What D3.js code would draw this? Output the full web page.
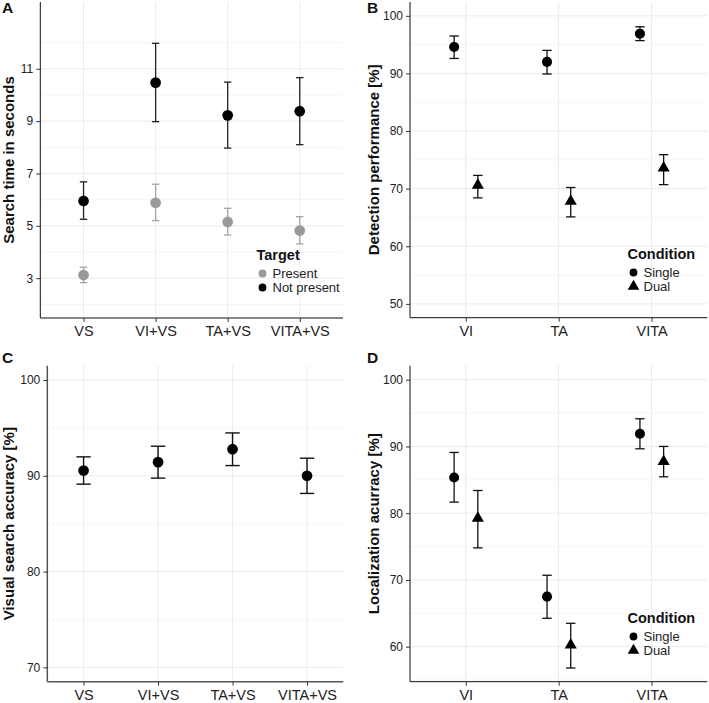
<!DOCTYPE html>
<html>
<head>
<meta charset="utf-8">
<script src="https://cdn.jsdelivr.net/npm/d3@7"></script>
<style>
  body { margin: 0; background: #fff; }
  svg { display: block; font-family: "Liberation Sans", Arial, sans-serif; }
</style>
</head>
<body>
<svg id="chart" width="709" height="703"></svg>
<script>
// Panel A: search time
const catsA = ["VS", "VI+VS", "TA+VS", "VITA+VS"];
const presentMean = [3.12, 5.88, 5.15, 4.82];
const presentLo = [2.83, 5.2, 4.65, 4.31];
const presentHi = [3.42, 6.59, 5.67, 5.35];
const absentMean = [5.95, 10.47, 9.22, 9.38];
const absentLo = [5.25, 8.98, 7.97, 8.1];
const absentHi = [6.68, 11.97, 10.49, 10.66];
const ticksA = [3, 5, 7, 9, 11];

// Panel B: detection performance
const catsB = ["VI", "TA", "VITA"];
const detSingle = [94.6, 92.0, 96.9];
const detSingleLo = [92.6, 89.9, 95.7];
const detSingleHi = [96.5, 94.0, 98.1];
const detDual = [70.6, 67.8, 73.6];
const detDualLo = [68.4, 65.1, 70.7];
const detDualHi = [72.3, 70.2, 75.9];
const ticksB = [50, 60, 70, 80, 90, 100];

// Panel C: visual search accuracy
const catsC = ["VS", "VI+VS", "TA+VS", "VITA+VS"];
const accMean = [90.55, 91.43, 92.78, 90.0];
const accLo = [89.13, 89.76, 91.07, 88.16];
const accHi = [91.98, 93.09, 94.48, 91.84];
const ticksC = [70, 80, 90, 100];

// Panel D: localization accuracy
const catsD = ["VI", "TA", "VITA"];
const locSingle = [85.35, 67.5, 91.9];
const locSingleLo = [81.66, 64.25, 89.65];
const locSingleHi = [89.1, 70.7, 94.15];
const locDual = [79.25, 60.25, 87.75];
const locDualLo = [74.8, 56.8, 85.45];
const locDualHi = [83.4, 63.5, 90.0];
const ticksD = [60, 70, 80, 90, 100];

const svg = d3.select("#chart");
const gridCol = "#ebebeb";
const minorCol = "#f4f4f4";

function panel(o) {
  const g = svg.append("g");
  const x = d3.scalePoint(o.cats, [o.left, o.right]).padding(o.pad);
  const y = d3.scaleLinear(o.domain, [o.bottom, o.top]);

  // minor grid
  const minor = o.ticks.slice(0, -1).map((t, i) => (t + o.ticks[i + 1]) / 2)
    .concat([o.ticks[0] - (o.ticks[1] - o.ticks[0]) / 2, o.ticks[o.ticks.length - 1] + (o.ticks[1] - o.ticks[0]) / 2])
    .filter(v => v > o.domain[0] && v < o.domain[1]);
  g.selectAll(".minor").data(minor).join("line")
    .attr("x1", o.left).attr("x2", o.right)
    .attr("y1", d => y(d)).attr("y2", d => y(d))
    .attr("stroke", minorCol).attr("stroke-width", 0.8);
  g.selectAll(".hmaj").data(o.ticks).join("line")
    .attr("x1", o.left).attr("x2", o.right)
    .attr("y1", d => y(d)).attr("y2", d => y(d))
    .attr("stroke", gridCol).attr("stroke-width", 1);
  g.selectAll(".vmaj").data(o.cats).join("line")
    .attr("x1", d => x(d)).attr("x2", d => x(d))
    .attr("y1", o.top).attr("y2", o.bottom)
    .attr("stroke", gridCol).attr("stroke-width", 1);

  // axes
  const ya = g.append("g").attr("transform", `translate(${o.left},0)`)
    .call(d3.axisLeft(y).tickValues(o.ticks).tickSize(4).tickPadding(3).tickSizeOuter(0));
  const xa = g.append("g").attr("transform", `translate(0,${o.bottom})`)
    .call(d3.axisBottom(x).tickSize(4).tickPadding(4).tickSizeOuter(0));
  [ya, xa].forEach(a => {
    a.select(".domain").attr("stroke", o.axisCol).attr("stroke-width", o.axisW);
    a.selectAll(".tick line").attr("stroke", "#333");
    a.selectAll("text").attr("fill", "#222").attr("font-size", 12);
  });
  xa.selectAll("text").attr("font-size", 14.5);
  ya.select(".domain").attr("d", `M0,${o.bottom}V${o.top}`);
  xa.select(".domain").attr("d", `M${o.left},0H${o.right}`);

  // y title
  g.append("text")
    .attr("transform", `translate(${o.titleX},${(o.top + o.bottom) / 2}) rotate(-90)`)
    .attr("text-anchor", "middle").attr("dominant-baseline", "central")
    .attr("font-weight", "bold").attr("font-size", 15).attr("fill", "#111")
    .text(o.yTitle);

  // panel letter
  g.append("text").attr("x", o.letterX).attr("y", o.letterY)
    .attr("font-weight", "bold").attr("font-size", 15.5).attr("fill", "#111")
    .text(o.letter);

  // series
  const step = x.step();
  o.series.forEach(s => {
    const pts = o.cats.map((c, i) => ({ cx: x(c) + s.dodge * step, m: s.mean[i], lo: s.lo[i], hi: s.hi[i] }));
    const eb = g.append("g").attr("stroke", s.barCol).attr("stroke-width", o.barW).attr("fill", "none");
    eb.selectAll(".v").data(pts).join("line")
      .attr("x1", d => d.cx).attr("x2", d => d.cx)
      .attr("y1", d => y(d.lo)).attr("y2", d => y(d.hi));
    eb.selectAll(".t").data(pts).join("line")
      .attr("x1", d => d.cx - o.cap).attr("x2", d => d.cx + o.cap)
      .attr("y1", d => y(d.hi)).attr("y2", d => y(d.hi));
    eb.selectAll(".b").data(pts).join("line")
      .attr("x1", d => d.cx - o.cap).attr("x2", d => d.cx + o.cap)
      .attr("y1", d => y(d.lo)).attr("y2", d => y(d.lo));
    g.selectAll(null).data(pts).join("path")
      .attr("transform", d => `translate(${d.cx},${y(d.m)})`)
      .attr("d", d3.symbol(s.shape === "tri" ? d3.symbolTriangle : d3.symbolCircle, s.shape === "tri" ? 64 : o.ptArea)())
      .attr("fill", s.col);
  });

  // legend
  if (o.legend) {
    const L = o.legend;
    g.append("text").attr("x", L.x).attr("y", L.y)
      .attr("font-weight", "bold").attr("font-size", 14.5).attr("fill", "#111").text(L.title);
    o.series.forEach((s, i) => {
      const yy = L.y + 13.5 + i * 14;
      g.append("path")
        .attr("transform", `translate(${L.x + 6},${yy})`)
        .attr("d", d3.symbol(s.shape === "tri" ? d3.symbolTriangle : d3.symbolCircle, s.shape === "tri" ? 58 : 48)())
        .attr("fill", s.col);
      g.append("text").attr("x", L.x + 16).attr("y", yy)
        .attr("dominant-baseline", "central").attr("font-size", 13).attr("fill", "#222")
        .text(s.name);
    });
  }
}

panel({
  letter: "A", letterX: 2, letterY: 13,
  cats: catsA, left: 40.3, right: 343, top: 2, bottom: 318, pad: 0.6,
  domain: [1.48, 13.55], ticks: ticksA, titleX: 8.5, yTitle: "Search time in seconds",
  axisCol: "#111", axisW: 1, barW: 1.3, cap: 3.7, ptArea: 90,
  series: [
    { name: "Present", mean: presentMean, lo: presentLo, hi: presentHi, col: "#999", barCol: "#a3a3a3", dodge: 0, shape: "circle" },
    { name: "Not present", mean: absentMean, lo: absentLo, hi: absentHi, col: "#000", barCol: "#222", dodge: 0, shape: "circle" }
  ],
  legend: { x: 256.5, y: 260, title: "Target" }
});

panel({
  letter: "B", letterX: 367, letterY: 13,
  cats: catsB, left: 410, right: 707.3, top: 2, bottom: 317.7, pad: 0.6,
  domain: [47.6, 102.4], ticks: ticksB, titleX: 373, yTitle: "Detection performance [%]",
  axisCol: "#111", axisW: 1, barW: 1.3, cap: 4.7, ptArea: 80,
  series: [
    { name: "Single", mean: detSingle, lo: detSingleLo, hi: detSingleHi, col: "#000", barCol: "#111", dodge: -0.125, shape: "circle" },
    { name: "Dual", mean: detDual, lo: detDualLo, hi: detDualHi, col: "#000", barCol: "#111", dodge: 0.13, shape: "tri" }
  ],
  legend: { x: 627.5, y: 259, title: "Condition" }
});

panel({
  letter: "C", letterX: 2, letterY: 363,
  cats: catsC, left: 47.3, right: 343.3, top: 365.7, bottom: 681.7, pad: 0.487,
  domain: [68.5, 101.5], ticks: ticksC, titleX: 8.5, yTitle: "Visual search accuracy [%]",
  axisCol: "#555", axisW: 1.5, barW: 1.4, cap: 7.2, ptArea: 90,
  series: [
    { name: "Accuracy", mean: accMean, lo: accLo, hi: accHi, col: "#000", barCol: "#111", dodge: 0, shape: "circle" }
  ]
});

panel({
  letter: "D", letterX: 367, letterY: 363,
  cats: catsD, left: 410, right: 707.3, top: 365.7, bottom: 681.7, pad: 0.6,
  domain: [54.75, 102.1], ticks: ticksD, titleX: 373, yTitle: "Localization acurracy [%]",
  axisCol: "#111", axisW: 1, barW: 1.3, cap: 4.7, ptArea: 80,
  series: [
    { name: "Single", mean: locSingle, lo: locSingleLo, hi: locSingleHi, col: "#000", barCol: "#111", dodge: -0.125, shape: "circle" },
    { name: "Dual", mean: locDual, lo: locDualLo, hi: locDualHi, col: "#000", barCol: "#111", dodge: 0.13, shape: "tri" }
  ],
  legend: { x: 627.5, y: 623, title: "Condition" }
});
</script>
</body>
</html>
